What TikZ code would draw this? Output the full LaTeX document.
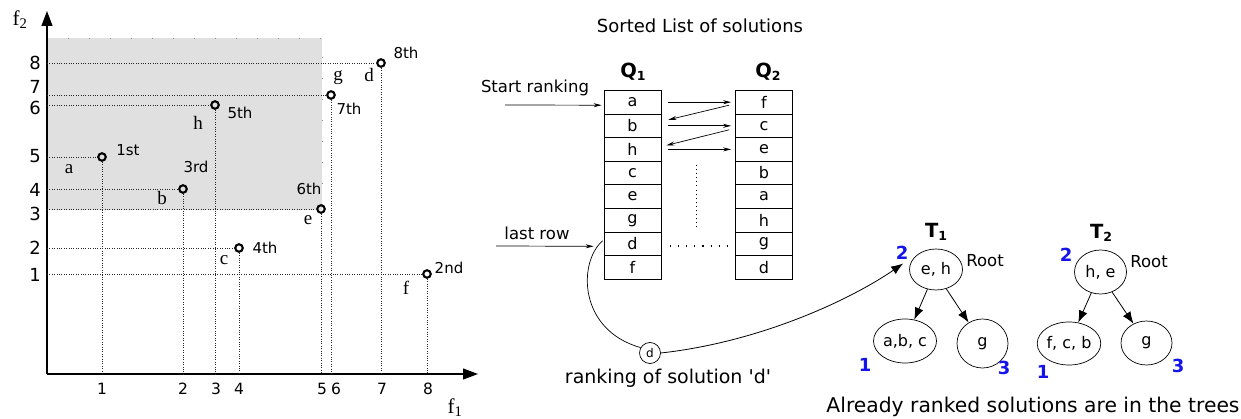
\documentclass[tikz,border=0pt]{standalone}
\usepackage{fontspec}
\setmainfont{DejaVu Sans}
\newfontfamily\tms{Liberation Serif}
\usetikzlibrary{arrows.meta,shapes.geometric}
\definecolor{regiongray}{RGB}{224,224,224}
\definecolor{lvl}{RGB}{20,20,235}
\begin{document}
\begin{tikzpicture}[x=1pt,y=-1pt,
  sol/.style={circle,draw,line width=2.1pt,inner sep=0pt,minimum size=7.5pt},
  guide/.style={line width=0.7pt,black!85,dash pattern=on 0.8pt off 1.6pt},
  axisline/.style={line width=1.2pt,-{Triangle[length=15pt,width=11pt]}},
  ordtxt/.style={font=\fontsize{15}{15}\selectfont,inner sep=0pt},
  lettxt/.style={font=\tms\fontsize{19}{19}\selectfont,inner sep=0pt},
  yticktxt/.style={font=\fontsize{18}{18}\selectfont,inner sep=0pt},
  xticktxt/.style={font=\fontsize{15.5}{15.5}\selectfont,inner sep=0pt},
  plain/.style={font=\fontsize{16.5}{16.5}\selectfont,inner sep=0pt},
  cell/.style={draw,line width=0.8pt,minimum width=57pt,minimum height=23.6pt,inner sep=0pt,
               anchor=north,font=\fontsize{16}{16}\selectfont},
  qhead/.style={font=\bfseries\fontsize{19.5}{19.5}\selectfont,inner sep=0pt},
  swap/.style={line width=0.7pt,-{Stealth[length=8pt,width=4pt]}},
  tnode/.style={ellipse,draw,line width=0.7pt,inner sep=0pt,font=\fontsize{16}{16}\selectfont},
  tarrow/.style={line width=0.8pt,-{Latex[length=12pt,width=9pt]}},
  level/.style={text=lvl,font=\bfseries\fontsize{18}{18}\selectfont,inner sep=0pt},
]
\useasboundingbox (0,0) rectangle (1241,419);

% ---------------- objective space ----------------
\fill[regiongray] (47,38) rectangle (322,210);
\draw[black!45,line width=0.8pt,dash pattern=on 1pt off 20pt] (47,38) -- (322,38) -- (322,210);

\coordinate (O) at (47,374);
\coordinate (ytip) at (47,11);
\coordinate (xtip) at (478,374);
\draw[axisline] (O) -- (ytip);
\draw[axisline] (O) -- (xtip);
\node[lettxt,font=\tms\fontsize{21}{21}\selectfont] (f2) at (20,20) {f\textsubscript{2}};
\node[lettxt,font=\tms\fontsize{21}{21}\selectfont] (f1) at (455,408) {f\textsubscript{1}};

% tick labels
\foreach \v/\x in {1/102,2/183,3/216,4/239,5/322,6/336,7/382,8/428}
  \node[xticktxt] (xt\v) at (\x,389) {\v};
\foreach \v/\y in {1/275,2/248,3/214,4/190,5/156,6/108,7/87,8/63}
  \node[yticktxt] (yt\v) at (35,\y) {\v};

% solutions: name / x / y / order label pos / letter pos / order
\foreach \n/\x/\y/\ox/\oy/\lx/\ly/\o in {
    a/102/157/128/150/69/169/1st,
    b/183/189/196/167/162/198/3rd,
    h/215/105/240/113/198/123/5th,
    c/239/248/265/248/224/260/4th,
    e/321/209/309/189/308/220/6th,
    g/331/95/349/109/338/78/7th,
    d/381/63/406/53/369/75/8th,
    f/427/274/449/268/406/288/2nd}{
  \coordinate (ax\n) at (47,\y);
  \coordinate (bx\n) at (\x,374);
  \node[sol] (p\n) at (\x,\y) {};
  \draw[guide] (ax\n) -- (p\n.west);
  \draw[guide] (p\n.south) -- (bx\n);
  \node[ordtxt] (o\n) at (\ox,\oy) {\o};
  \node[lettxt] (l\n) at (\lx,\ly) {\n};
}

% ---------------- sorted lists ----------------
\node[plain,font=\fontsize{18}{18}\selectfont] (title) at (700,26) {Sorted List of solutions};
\node[qhead] (q1h) at (633,72) {Q\raisebox{-0.25ex}{\fontsize{12.5}{12.5}\selectfont 1}};
\node[qhead] (q2h) at (768,72) {Q\raisebox{-0.25ex}{\fontsize{12.5}{12.5}\selectfont 2}};

\foreach \l [count=\i] in {a,b,h,c,e,g,d,f}
  \node[cell] (qa\i) at (632.5,{90+23.6*(\i-1)}) {\l};
\foreach \l [count=\i] in {f,c,e,b,a,h,g,d}
  \node[cell] (qb\i) at (764,{90+23.6*(\i-1)}) {\l};

\draw[swap] ([xshift=7pt]qa1.east) -- ([xshift=-4pt]qb1.west);
\draw[swap] ([xshift=-6pt,yshift=-3pt]qb1.west) -- ([xshift=7pt,yshift=6pt]qa2.east);
\draw[swap] ([xshift=7pt]qa2.east) -- ([xshift=-4pt]qb2.west);
\draw[swap] ([xshift=-6pt,yshift=-4pt]qb2.west) -- ([xshift=5pt,yshift=4pt]qa3.east);
\draw[swap] ([xshift=7pt]qa3.east) -- ([xshift=-4pt]qb3.west);

\coordinate (vd1) at (696,165);
\coordinate (vd2) at (696,229);
\draw[line width=0.8pt,dash pattern=on 0.9pt off 3.2pt] (vd1) -- (vd2);
\coordinate (hd1) at (670,246);
\coordinate (hd2) at (728,246);
\draw[line width=1.1pt,dash pattern=on 1.1pt off 7pt] (hd1) -- (hd2);

\node[plain] (start) at (535,88) {Start ranking};
\coordinate (startfrom) at (505,105);
\draw[swap] (startfrom) -- ([xshift=-2pt,yshift=-3pt]qa1.west);
\node[plain] (last) at (537,233) {last row};
\coordinate (lastfrom) at (496,246);
\draw[swap] (lastfrom) -- ([xshift=-10pt,yshift=-2.5pt]qa7.west);

\node[circle,draw,line width=0.7pt,minimum size=21pt,inner sep=0pt,
      font=\fontsize{12}{12}\selectfont] (dr) at (650,353) {d};
\node[plain,font=\fontsize{19}{19}\selectfont] (rankd) at (668,378) {ranking of solution \textquotesingle d\textquotesingle};

% ---------------- trees ----------------
\node[qhead] (t1h) at (936,232) {T\raisebox{-0.25ex}{\fontsize{12.5}{12.5}\selectfont 1}};
\node[qhead] (t2h) at (1101,233) {T\raisebox{-0.25ex}{\fontsize{12.5}{12.5}\selectfont 2}};

\node[tnode,minimum width=53pt,minimum height=41pt] (r1) at (936,269.5) {e, h};
\node[tnode,minimum width=63pt,minimum height=44pt] (l1) at (905,341) {a,b, c};
\node[tnode,minimum width=51pt,minimum height=49pt] (g1) at (982.5,343.5) {g};
\node[tnode,minimum width=52pt,minimum height=44pt] (r2) at (1100.5,272) {h, e};
\node[tnode,minimum width=63pt,minimum height=43pt] (l2) at (1069,343.5) {f, c, b};
\node[tnode,minimum width=51pt,minimum height=44pt] (g2) at (1146.5,343) {g};

\draw[tarrow] (r1) -- (l1);
\draw[tarrow] (r1.-62) -- (g1);
\draw[tarrow] (r2) -- (l2);
\draw[tarrow] (r2.-60) -- (g2);

\node[plain] (root1) at (985,261) {Root};
\node[plain] (root2) at (1149,262) {Root};
\node[level] (n21) at (902,253) {2};
\node[level] (n11) at (865,365) {1};
\node[level] (n31) at (1004,368) {3};
\node[level] (n22) at (1066,255) {2};
\node[level] (n12) at (1043,372) {1};
\node[level] (n32) at (1178,366) {3};

\node[plain,font=\fontsize{20.3}{20.3}\selectfont] (note) at (1033,407) {Already ranked solutions are in the trees};

% ranking path of 'd' into the first tree
\draw[line width=0.7pt] ([xshift=-1pt,yshift=3pt]qa7.west) .. controls (578,262) and (578,330) .. (dr.150);
\draw[tarrow] (dr.east) .. controls (760,342) and (850,300) .. ([xshift=-6pt,yshift=6pt]r1.west);
\end{tikzpicture}
\end{document}
